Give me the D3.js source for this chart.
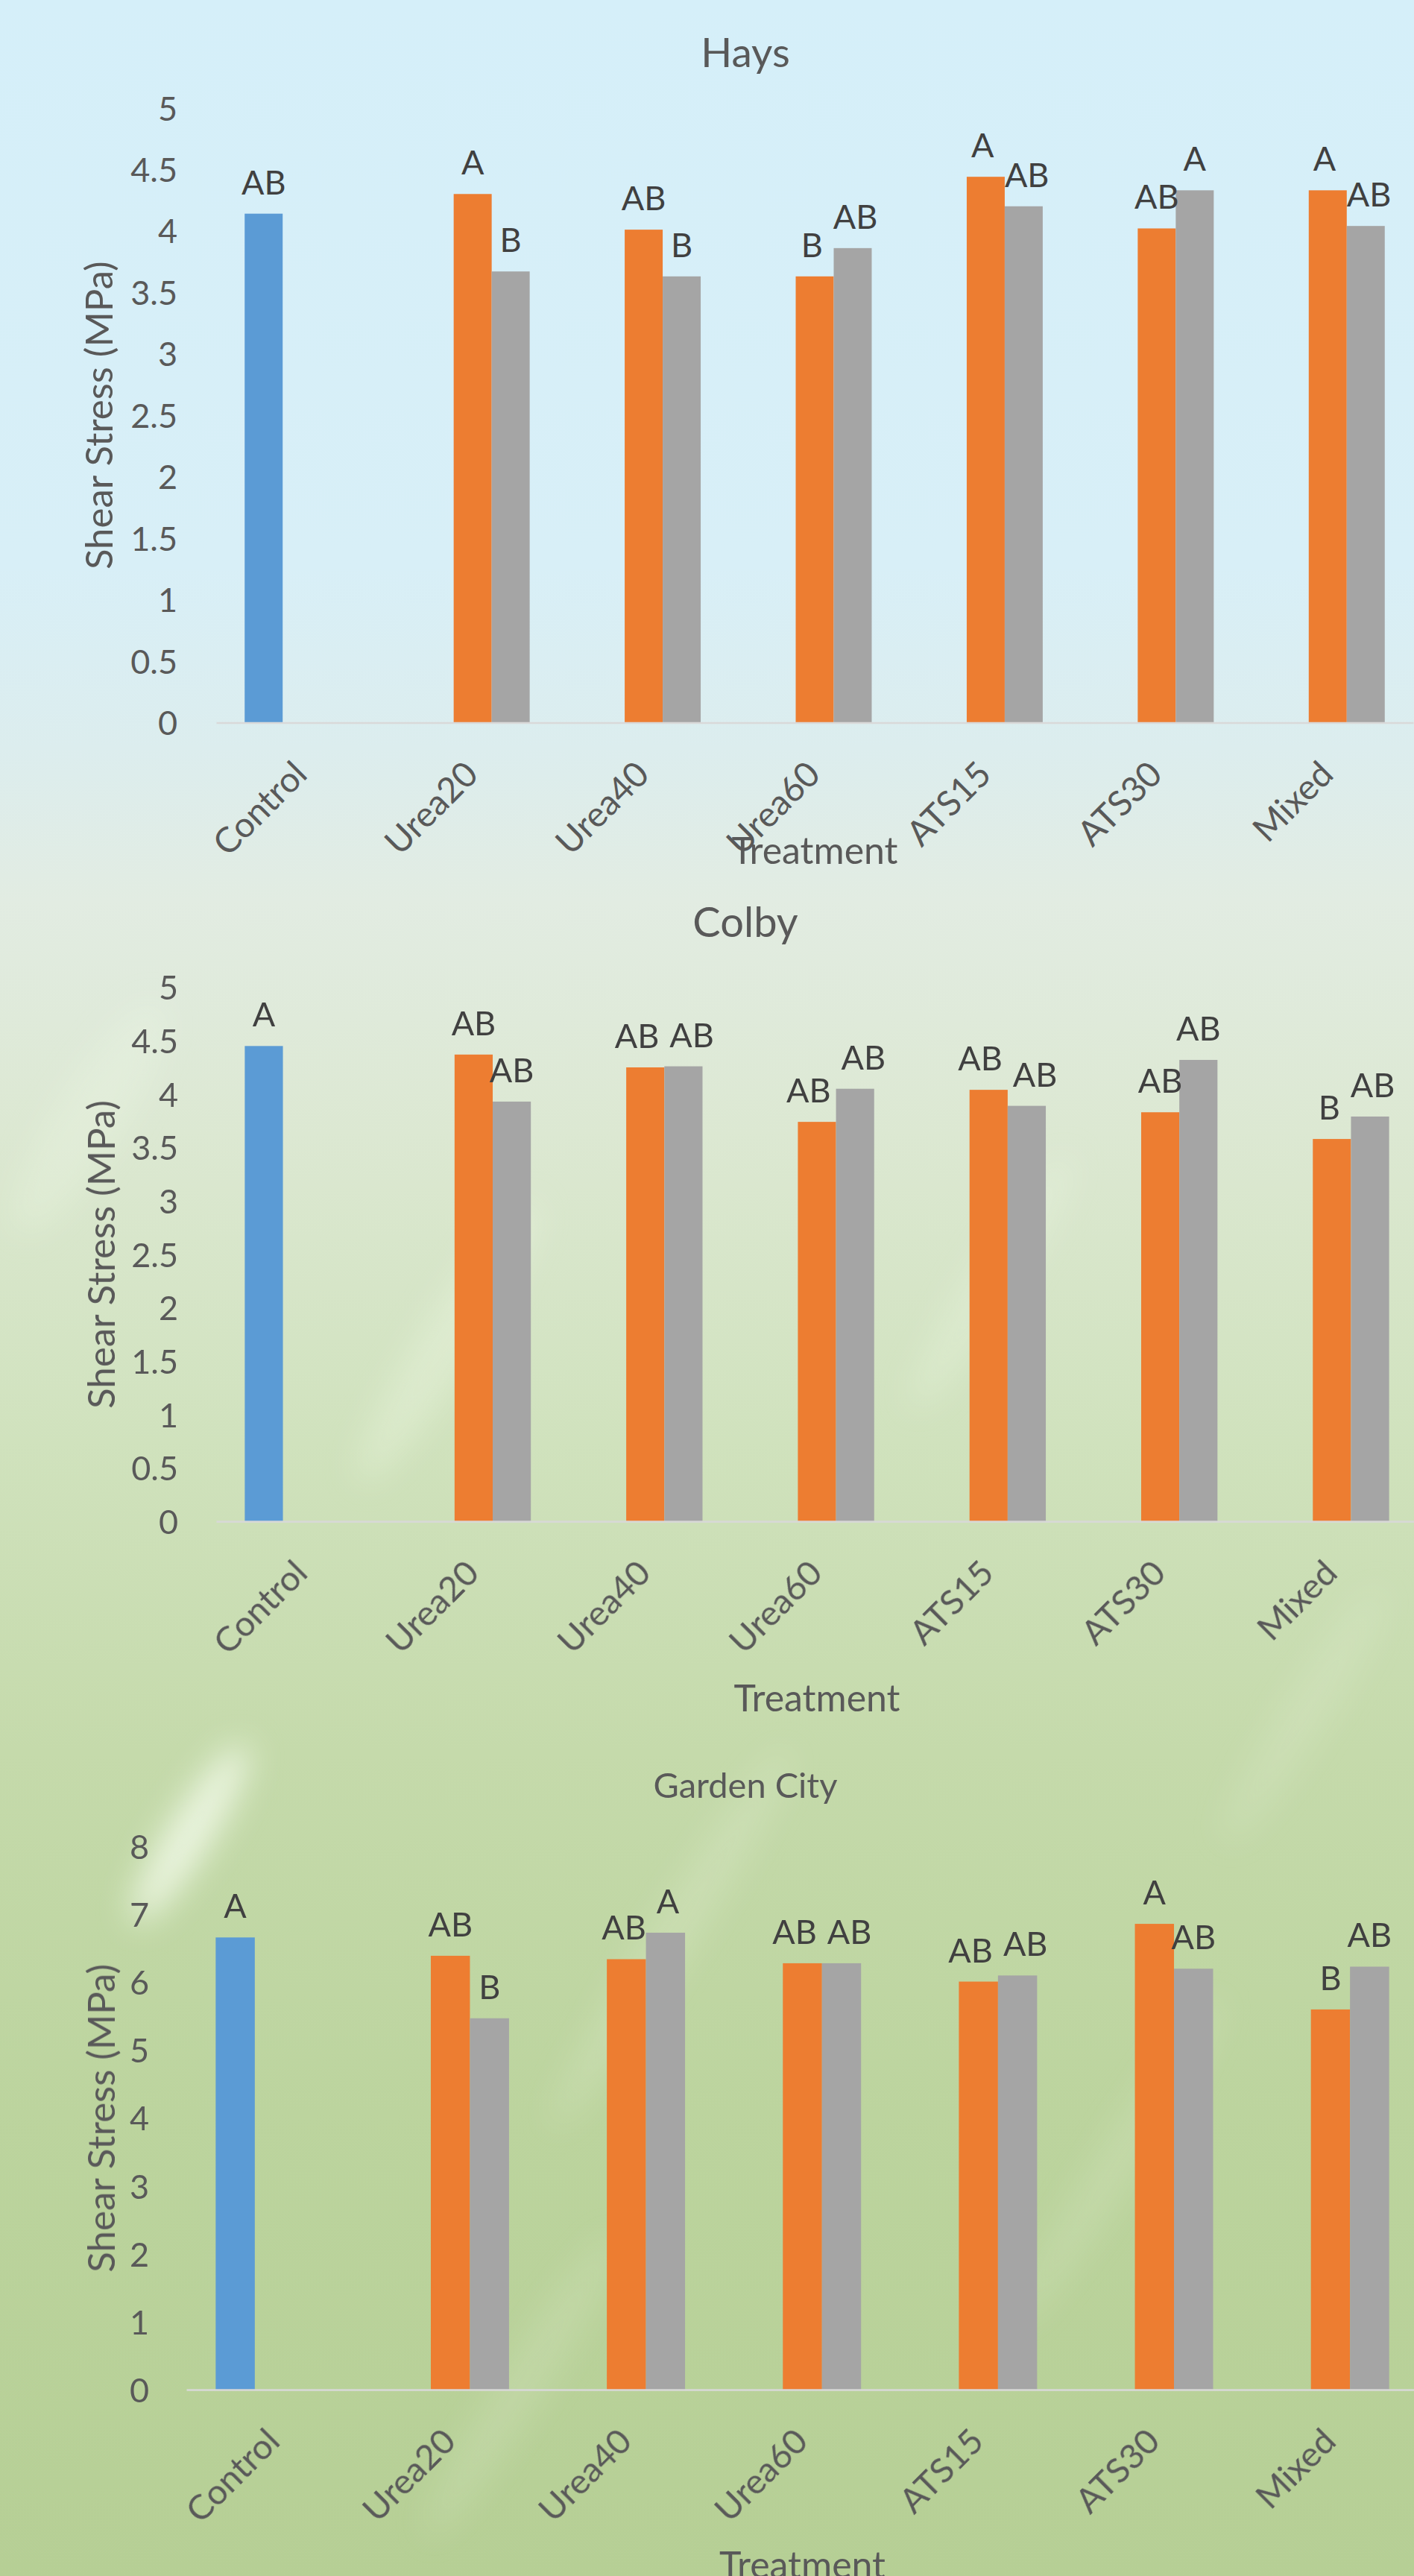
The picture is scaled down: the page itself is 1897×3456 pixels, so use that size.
<!DOCTYPE html>
<html>
<head>
<meta charset="utf-8">
<script src="https://cdn.jsdelivr.net/npm/d3@7"></script>
<style>
    html, body { margin: 0; padding: 0; }
    body { width: 1897px; height: 3456px; overflow: hidden; }
    text { font-family: Lato, "Open Sans", sans-serif; }
</style>
</head>
<body>
<svg id="chart" width="1897" height="3456"></svg>
<script>
// categories shared by all three sites
const treatments = ["Control", "Urea20", "Urea40", "Urea60", "ATS15", "ATS30", "Mixed"];
const seriesKeys = ["control", "seriesA", "seriesB"];

// Hays (MPa)
const haysControl = [4.14, null, null, null, null, null, null];
const haysA = [null, 4.30, 4.01, 3.63, 4.44, 4.02, 4.33];
const haysB = [null, 3.67, 3.63, 3.86, 4.20, 4.33, 4.04];
const haysControlLetters = ["AB", null, null, null, null, null, null];
const haysALetters = [null, "A", "AB", "B", "A", "AB", "A"];
const haysBLetters = [null, "B", "B", "AB", "AB", "A", "AB"];

// Colby (MPa)
const colbyControl = [4.45, null, null, null, null, null, null];
const colbyA = [null, 4.37, 4.25, 3.74, 4.04, 3.83, 3.58];
const colbyB = [null, 3.93, 4.26, 4.05, 3.89, 4.32, 3.79];
const colbyControlLetters = ["A", null, null, null, null, null, null];
const colbyALetters = [null, "AB", "AB", "AB", "AB", "AB", "B"];
const colbyBLetters = [null, "AB", "AB", "AB", "AB", "AB", "AB"];

// Garden City (MPa)
const gardenControl = [6.66, null, null, null, null, null, null];
const gardenA = [null, 6.39, 6.34, 6.28, 6.01, 6.86, 5.60];
const gardenB = [null, 5.47, 6.73, 6.28, 6.10, 6.20, 6.23];
const gardenControlLetters = ["A", null, null, null, null, null, null];
const gardenALetters = [null, "AB", "AB", "AB", "AB", "A", "B"];
const gardenBLetters = [null, "B", "A", "AB", "AB", "AB", "AB"];

const yTicksHays = [0, 0.5, 1, 1.5, 2, 2.5, 3, 3.5, 4, 4.5, 5];
const yTicksColby = [0, 0.5, 1, 1.5, 2, 2.5, 3, 3.5, 4, 4.5, 5];
const yTicksGarden = [0, 1, 2, 3, 4, 5, 6, 7, 8];

const siteNames = ["Hays", "Colby", "Garden City"];

const colors = { control: "#5B9BD5", seriesA: "#ED7D31", seriesB: "#A5A5A5" };

const sites = [
    { values: [haysControl, haysA, haysB], letters: [haysControlLetters, haysALetters, haysBLetters], ticks: yTicksHays },
    { values: [colbyControl, colbyA, colbyB], letters: [colbyControlLetters, colbyALetters, colbyBLetters], ticks: yTicksColby },
    { values: [gardenControl, gardenA, gardenB], letters: [gardenControlLetters, gardenALetters, gardenBLetters], ticks: yTicksGarden }
];

// page layout of each panel
const layouts = [
    { top: 144.8, bottom: 969.6, left: 290, right: 1896, tickX: 238, titleY: 90, titleSize: 55, yTitleX: 133, xTitleY: 1159 },
    { top: 1324.5, bottom: 2041.3, left: 290, right: 1902, tickX: 239, titleY: 1257, titleSize: 56, yTitleX: 136, xTitleY: 2296 },
    { top: 2477.2, bottom: 3206.2, left: 250, right: 1903, tickX: 200, titleY: 2412, titleSize: 47, yTitleX: 136, xTitleY: 3459 }
];

const svg = d3.select("#chart");

// background: sky fading into grass
const defs = svg.append("defs");
const grad = defs.append("linearGradient")
    .attr("id", "bg").attr("x1", 0).attr("y1", 0).attr("x2", 0).attr("y2", 1);
[
    [0, "#d5eff9"], [0.22, "#d8eff7"], [0.29, "#dcedee"], [0.35, "#e2ece2"],
    [0.44, "#dce8d2"], [0.56, "#d0e2bd"], [0.68, "#c5daab"], [0.82, "#bcd49e"], [1, "#b6cf95"]
].forEach(([o, c]) => grad.append("stop").attr("offset", o).attr("stop-color", c));

defs.append("filter").attr("id", "blur").attr("x", "-50%").attr("y", "-50%").attr("width", "200%").attr("height", "200%")
    .append("feGaussianBlur").attr("stdDeviation", 22);

svg.append("rect").attr("width", 1897).attr("height", 3456).attr("fill", "url(#bg)");

// soft light streaks of the grass photo
const streaks = svg.append("g").attr("filter", "url(#blur)");
[
    [255, 2460, 140, 30, 0.8], [600, 1800, 220, 36, 0.3], [1330, 1720, 200, 30, 0.25],
    [900, 2600, 300, 30, 0.18], [1500, 2900, 260, 28, 0.15], [120, 1500, 180, 44, 0.25],
    [700, 3200, 240, 30, 0.15], [1750, 2300, 200, 30, 0.15]
].forEach(([cx, cy, rx, ry, op]) => {
    streaks.append("ellipse")
        .attr("cx", cx).attr("cy", cy).attr("rx", rx).attr("ry", ry)
        .attr("transform", `rotate(-58,${cx},${cy})`)
        .attr("fill", "#f4fbec").attr("opacity", op);
});

sites.forEach((site, i) => {
    const L = layouts[i];
    const g = svg.append("g");

    const x0 = d3.scaleBand().domain(treatments).range([L.left, L.right])
        .paddingInner(1 / 3).paddingOuter(1 / 6);
    const x1 = d3.scaleBand().domain(seriesKeys).range([0, x0.bandwidth()]);
    const yMax = site.ticks[site.ticks.length - 1];
    const y = d3.scaleLinear().domain([0, yMax]).range([L.bottom, L.top]);

    // title
    g.append("text")
        .attr("x", 1000).attr("y", L.titleY)
        .attr("text-anchor", "middle")
        .attr("font-size", L.titleSize)
        .attr("fill", "#595959")
        .text(siteNames[i]);

    // y axis (labels only)
    const yAxis = g.append("g")
        .attr("transform", `translate(${L.tickX},0)`)
        .call(d3.axisLeft(y).tickValues(site.ticks).tickSize(0).tickPadding(0).tickFormat(d3.format("~g")));
    yAxis.select(".domain").remove();
    yAxis.attr("font-family", null).attr("font-size", 45);
    yAxis.selectAll("text").attr("fill", "#595959").attr("dy", "0.36em");

    g.append("text")
        .attr("transform", `translate(${L.yTitleX},${(L.top + L.bottom) / 2}) rotate(-90)`)
        .attr("text-anchor", "middle")
        .attr("dy", "0.36em")
        .attr("font-size", 51)
        .attr("fill", "#595959")
        .text("Shear Stress (MPa)");

    // bars
    const bars = [];
    seriesKeys.forEach((key, s) => {
        site.values[s].forEach((v, k) => {
            if (v !== null) bars.push({ key, cat: treatments[k], value: v, letter: site.letters[s][k] });
        });
    });

    g.append("g").selectAll("rect")
        .data(bars)
        .join("rect")
        .attr("x", d => x0(d.cat) + x1(d.key))
        .attr("y", d => y(d.value))
        .attr("width", x1.bandwidth())
        .attr("height", d => y(0) - y(d.value))
        .attr("fill", d => colors[d.key]);

    const labels = g.append("g").selectAll("text")
        .data(bars)
        .join("text")
        .attr("x", d => x0(d.cat) + x1(d.key) + x1.bandwidth() / 2)
        .attr("y", d => y(d.value) - 26)
        .attr("text-anchor", "middle")
        .attr("font-size", 45)
        .attr("fill", "#404040")
        .text(d => d.letter);

    // push apart the two letters of a group when they collide
    const gap = 14;
    treatments.forEach(cat => {
        const pair = labels.filter(d => d.cat === cat).nodes();
        if (pair.length !== 2) return;
        const [a, b] = pair.map(n => n.getBBox());
        const overlapX = a.x + a.width + gap - b.x;
        const overlapY = Math.min(a.y + a.height, b.y + b.height) - Math.max(a.y, b.y);
        if (overlapX > 0 && overlapY > 4) {
            d3.select(pair[0]).attr("x", +pair[0].getAttribute("x") - overlapX / 2);
            d3.select(pair[1]).attr("x", +pair[1].getAttribute("x") + overlapX / 2);
        }
    });

    // x axis
    const xAxis = g.append("g")
        .attr("transform", `translate(0,${L.bottom})`)
        .call(d3.axisBottom(x0).tickSize(0).tickSizeOuter(0));
    xAxis.select(".domain").attr("stroke", "#d9d9d9").attr("stroke-width", 2.5);
    xAxis.attr("font-family", null).attr("font-size", 47);
    xAxis.selectAll("text")
        .attr("x", 0).attr("y", 0).attr("dy", 0)
        .attr("transform", "translate(10,72) rotate(-45)")
        .attr("text-anchor", "end")
        .attr("fill", "#595959");

    g.append("text")
        .attr("x", (L.left + L.right) / 2).attr("y", L.xTitleY)
        .attr("text-anchor", "middle")
        .attr("font-size", 50)
        .attr("fill", "#595959")
        .text("Treatment");
});
</script>
</body>
</html>
